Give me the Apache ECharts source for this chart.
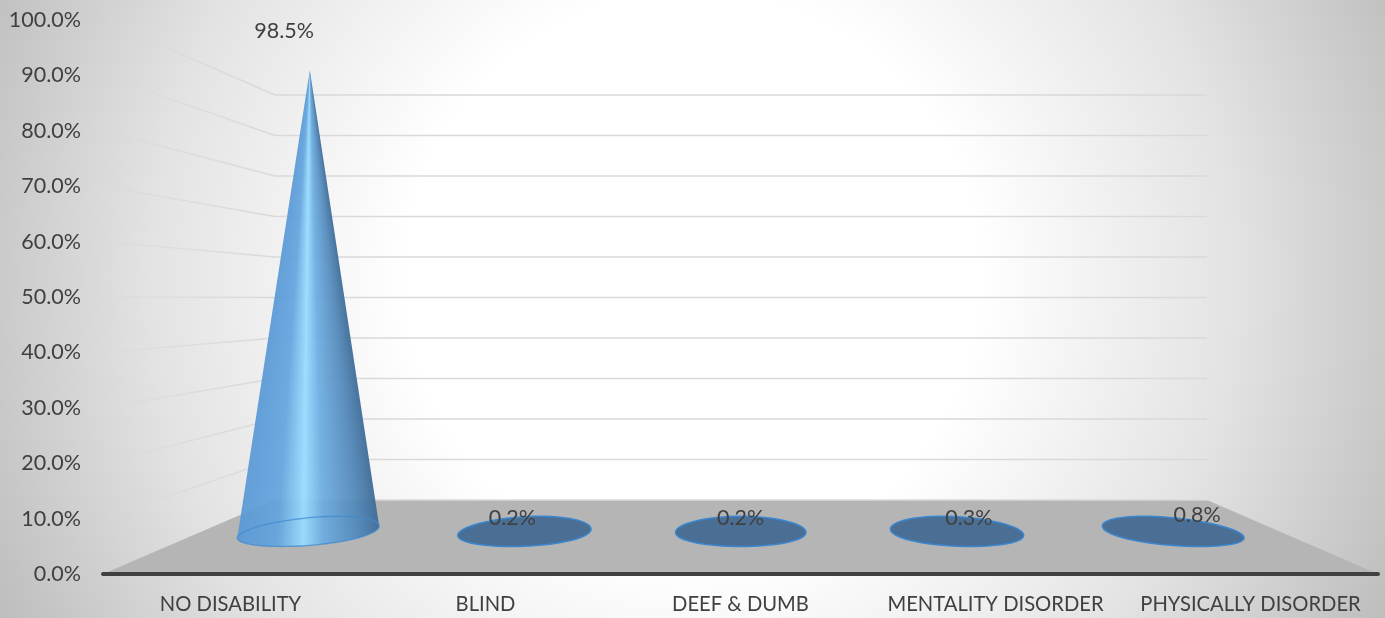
<!DOCTYPE html>
<html>
<head>
<meta charset="utf-8">
<title>Disability chart</title>
<script src="https://cdn.jsdelivr.net/npm/echarts@6/dist/echarts.min.js"></script>
<style>
  html, body { margin: 0; padding: 0; background: #fff; }
  #chart { width: 1385px; height: 618px; }
</style>
</head>
<body>
<div id="chart"></div>
<script>
const categories = ['NO DISABILITY', 'BLIND', 'DEEF & DUMB', 'MENTALITY DISORDER', 'PHYSICALLY DISORDER'];
const percentValues = [98.5, 0.2, 0.2, 0.3, 0.8];
const yTicks = [0, 10, 20, 30, 40, 50, 60, 70, 80, 90, 100];

const FONT_FAMILY = 'Lato, "Noto Sans", sans-serif';
const TEXT_COLOR = '#404040';

// the fake 3d: everything shrinks toward one vanishing point
const VANISH = [742, 299];
const BACK_SCALE = 0.731;
const CONE_SCALE = 0.845;   // where the cones stand on the floor
const LABEL_SCALE = 0.895;  // data labels sit a bit in front of them
const LABEL_LIFT = 26;
const CONE_RX = 77;
const CONE_DEPTH = 0.055;

function project(p, scale) {
  return [VANISH[0] + (p[0] - VANISH[0]) * scale, VANISH[1] + (p[1] - VANISH[1]) * scale];
}

// back wall + side wall grid lines, one per tick
function renderGrid(params, api) {
  const tick = api.value(1);
  const cs = params.coordSys;
  const front = api.coord([0, tick]);
  front[0] = cs.x;
  const corner = project(front, BACK_SCALE);
  const backRight = project([cs.x + cs.width, front[1]], BACK_SCALE);
  const children = [{
    type: 'line',
    shape: { x1: corner[0], y1: corner[1], x2: backRight[0], y2: backRight[1] },
    style: { stroke: '#d9d9d9', lineWidth: 1.5 }
  }];
  if (tick > 0) {
    children.push({
      type: 'line',
      shape: { x1: front[0], y1: front[1], x2: corner[0], y2: corner[1] },
      style: {
        lineWidth: 1.5,
        stroke: new echarts.graphic.LinearGradient(0, 0, 1, 0, [
          { offset: 0, color: 'rgba(217,217,217,0)' },
          { offset: 0.08, color: 'rgba(217,217,217,0.5)' },
          { offset: 1, color: 'rgba(217,217,217,1)' }
        ])
      }
    });
  }
  return { type: 'group', children: children };
}

function renderFloor(params, api) {
  const cs = params.coordSys;
  const y0 = api.coord([0, 0])[1];
  const fl = [cs.x, y0];
  const fr = [cs.x + cs.width, y0];
  return {
    type: 'polygon',
    shape: { points: [fl, project(fl, BACK_SCALE), project(fr, BACK_SCALE), fr] },
    style: { fill: '#b5b5b5' }
  };
}

const CONE_STOPS = [
  { offset: 0, color: 'rgba(88,152,214,0.92)' },
  { offset: 0.28, color: 'rgba(98,164,222,0.92)' },
  { offset: 0.46, color: 'rgba(153,220,255,0.95)' },
  { offset: 0.6, color: 'rgba(106,172,226,0.92)' },
  { offset: 0.85, color: 'rgba(79,134,184,0.92)' },
  { offset: 1, color: 'rgba(62,108,152,0.95)' }
];

// one-pixel rows, each with its own left-right gradient, so the shading narrows to the tip.
// the gradient follows the two silhouette lines, also below the tangent points
function coneRows(outline, tip, left, right) {
  const ys = outline.map(p => p[1]);
  const yMin = Math.ceil(Math.min.apply(null, ys));
  const yMax = Math.floor(Math.max.apply(null, ys));
  const slopeL = (left[0] - tip[0]) / (left[1] - tip[1]);
  const slopeR = (right[0] - tip[0]) / (right[1] - tip[1]);
  const rows = [];
  for (let y = yMin; y < yMax; y++) {
    const mid = y + 0.5;
    let xL = Infinity, xR = -Infinity;
    outline.forEach((a, n) => {
      const b = outline[(n + 1) % outline.length];
      if ((a[1] - mid) * (b[1] - mid) <= 0 && a[1] !== b[1]) {
        const x = a[0] + (b[0] - a[0]) * (mid - a[1]) / (b[1] - a[1]);
        xL = Math.min(xL, x);
        xR = Math.max(xR, x);
      }
    });
    if (xR > xL) {
      const g0 = tip[0] + slopeL * (mid - tip[1]);
      const g1 = tip[0] + slopeR * (mid - tip[1]);
      rows.push({
        type: 'rect',
        shape: { x: xL, y: y, width: xR - xL, height: 1 },
        style: { fill: new echarts.graphic.LinearGradient(g0, 0, g1, 0, CONE_STOPS, true) }
      });
    }
  }
  return rows;
}

function renderCone(params, api) {
  const i = api.value(0);
  const v = api.value(1);
  const base = api.coord([i, 0]);
  const tip = project(api.coord([i, v]), CONE_SCALE);

  // base circle on the floor, pushed through the projection so it shears by itself
  const N = 72;
  const ring = [];
  for (let k = 0; k < N; k++) {
    const a = (k / N) * Math.PI * 2;
    ring.push(project([base[0] + CONE_RX * Math.cos(a), base[1]], CONE_SCALE + CONE_DEPTH * Math.sin(a)));
  }
  const top = Math.min.apply(null, ring.map(p => p[1]));
  let children = [];

  if (tip[1] < top) {
    let iL = 0, iR = 0, aL = Infinity, aR = -Infinity;
    ring.forEach((p, k) => {
      const slope = (p[0] - tip[0]) / (p[1] - tip[1]);
      if (slope < aL) { aL = slope; iL = k; }
      if (slope > aR) { aR = slope; iR = k; }
    });
    const body = [tip];
    for (let k = iL; k !== iR; k = (k - 1 + N) % N) body.push(ring[k]);
    body.push(ring[iR]);
    children = coneRows(body, tip, ring[iL], ring[iR]);
    children.push({
      type: 'polygon',
      shape: { points: ring },
      style: { fill: 'none', stroke: '#3f8ad2', lineWidth: 1.3, opacity: 0.75 }
    });
  } else {
    children.push({
      type: 'polygon',
      shape: { points: ring },
      style: { fill: '#4b6f94', stroke: '#3a86cf', lineWidth: 1.5 }
    });
  }

  const anchor = project(api.coord([i, v]), LABEL_SCALE);
  children.push({
    type: 'text',
    x: anchor[0],
    y: anchor[1] - LABEL_LIFT,
    style: {
      text: v.toFixed(1) + '%',
      font: '21.5px ' + FONT_FAMILY,
      fill: TEXT_COLOR,
      align: 'center',
      verticalAlign: 'middle'
    }
  });
  return { type: 'group', children: children };
}

const chart = echarts.init(document.getElementById('chart'), null, { renderer: 'canvas' });
chart.setOption({
  animation: false,
  backgroundColor: {
    type: 'radial', x: 0.5, y: 0.45, r: 1.25,
    colorStops: [
      { offset: 0, color: '#ffffff' },
      { offset: 0.37, color: '#ffffff' },
      { offset: 0.7, color: '#e3e3e3' },
      { offset: 1, color: '#bdbdbd' }
    ]
  },
  grid: { left: 103, right: 7, top: 20, bottom: 44 },
  xAxis: {
    type: 'category',
    data: categories,
    z: 5,
    axisTick: { show: false },
    axisLine: { show: true, lineStyle: { color: '#404040', width: 4, cap: 'round' } },
    axisLabel: { fontFamily: FONT_FAMILY, fontSize: 20.2, color: TEXT_COLOR, margin: 20, interval: 0 }
  },
  yAxis: {
    type: 'value',
    min: 0, max: 100, interval: 10,
    splitLine: { show: false },
    axisLine: { show: false },
    axisTick: { show: false },
    axisLabel: {
      fontFamily: FONT_FAMILY, fontSize: 21.5, color: TEXT_COLOR, margin: 22,
      padding: [3, 0, 0, 0],
      formatter: v => v.toFixed(1) + '%'
    }
  },
  series: [
    { type: 'custom', name: 'floor', renderItem: renderFloor, data: [[0, 0]], silent: true, z: 1 },
    { type: 'custom', name: 'grid', renderItem: renderGrid, data: yTicks.map(t => [0, t]), silent: true, z: 2 },
    { type: 'custom', name: 'cones', renderItem: renderCone, data: percentValues.map((v, i) => [i, v]), z: 3 }
  ]
});
</script>
</body>
</html>
